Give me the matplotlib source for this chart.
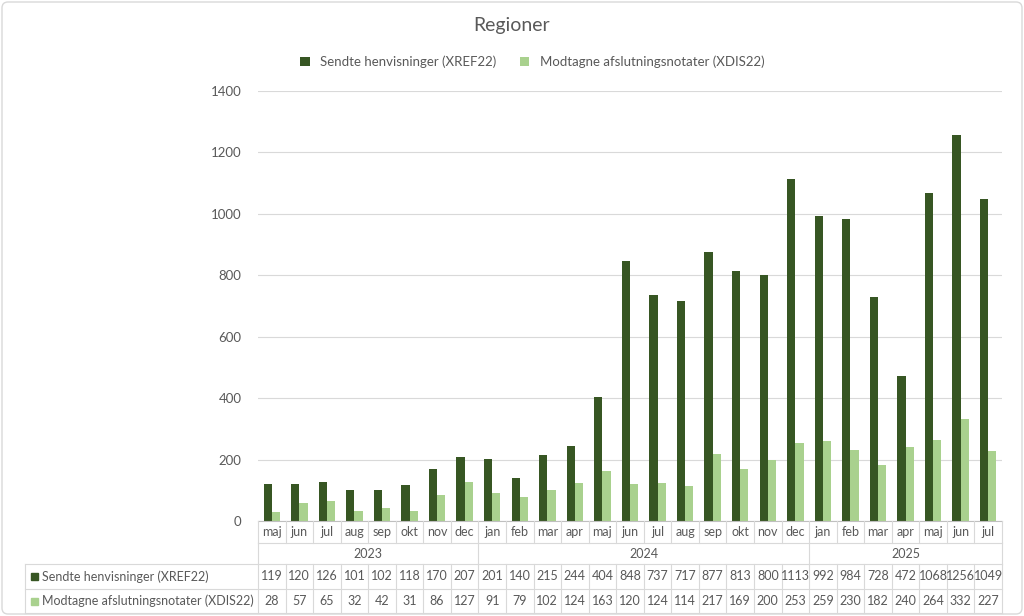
import matplotlib
matplotlib.use("Agg")
import matplotlib.pyplot as plt
from matplotlib.patches import FancyBboxPatch
import numpy as np

months = ["maj","jun","jul","aug","sep","okt","nov","dec",
          "jan","feb","mar","apr","maj","jun","jul","aug","sep","okt","nov","dec",
          "jan","feb","mar","apr","maj","jun","jul"]
years = ["2023", "2024", "2025"]
year_counts = [8, 12, 7]
sendte = [119,120,126,101,102,118,170,207,
          201,140,215,244,404,848,737,717,877,813,800,1113,
          992,984,728,472,1068,1256,1049]
modtagne = [28,57,65,32,42,31,86,127,
            91,79,102,124,163,120,124,114,217,169,200,253,
            259,230,182,240,264,332,227]
series_names = ["Sendte henvisninger (XREF22)", "Modtagne afslutningsnotater (XDIS22)"]
colors = ["#375623", "#a9d18e"]

plt.rcParams["font.family"] = "Lato"
W, H = 1024, 616
fig = plt.figure(figsize=(W/100, H/100), dpi=100)

x0, x1, ytop, ybot = 258, 1002, 91, 521
ax = fig.add_axes([x0/W, 1-ybot/H, (x1-x0)/W, (ybot-ytop)/H])
n = len(months)
x = np.arange(n)
bw = 0.3
ax.bar(x-bw/2, sendte, bw, color=colors[0], label=series_names[0], zorder=3)
ax.bar(x+bw/2, modtagne, bw, color=colors[1], label=series_names[1], zorder=3)
ax.set_xlim(-0.5, n-0.5)
ax.set_ylim(0, 1400)
ax.set_yticks(range(0, 1401, 200))
ax.yaxis.grid(True, color="#d9d9d9", lw=0.8, zorder=0)
ax.set_xticks([])
for s in ax.spines.values():
    s.set_visible(False)
ax.tick_params(axis="y", length=0, labelsize=9.5, labelcolor="#595959", pad=12)

fig.text(0.5, 1-25/H, "Regioner", ha="center", va="center", fontsize=14, color="#595959")
fig.legend(loc="center", bbox_to_anchor=(0.52, 1-62/H), ncol=2, frameon=False,
           fontsize=9.5, labelcolor="#595959", handlelength=0.7, handleheight=0.7,
           columnspacing=1.8)

# table overlay in pixel coordinates
tx = fig.add_axes([0, 0, 1, 1])
tx.set_xlim(0, W); tx.set_ylim(H, 0); tx.axis("off")
lc = "#d9d9d9"
cw = (x1-x0)/n
r = [521, 543, 564, 589, 613]
lx = 25
fs = 9
tx.plot([x0, x1], [r[0], r[0]], color="#bfbfbf", lw=0.8)
tx.plot([x0, x1], [r[1], r[1]], color=lc, lw=0.8)
for yy in r[2:]:
    tx.plot([lx, x1], [yy, yy], color=lc, lw=0.8)
for i in range(n+1):
    xx = x0 + i*cw
    tx.plot([xx, xx], [r[0], r[1]], color=lc, lw=0.8)
    tx.plot([xx, xx], [r[2], r[4]], color=lc, lw=0.8)
cum = np.cumsum([0]+year_counts)
for c in cum:
    xx = x0 + c*cw
    tx.plot([xx, xx], [r[1], r[2]], color=lc, lw=0.8)
tx.plot([lx, lx], [r[2], r[4]], color=lc, lw=0.8)
tc = "#595959"
for i, m in enumerate(months):
    cx = x0 + (i+0.5)*cw
    tx.text(cx, (r[0]+r[1])/2, m, ha="center", va="center", fontsize=fs, color=tc)
    tx.text(cx, (r[2]+r[3])/2, str(sendte[i]), ha="center", va="center", fontsize=fs, color=tc)
    tx.text(cx, (r[3]+r[4])/2, str(modtagne[i]), ha="center", va="center", fontsize=fs, color=tc)
for j, yv in enumerate(years):
    cx = x0 + (cum[j]+cum[j+1])/2*cw
    tx.text(cx, (r[1]+r[2])/2, yv, ha="center", va="center", fontsize=fs, color=tc)
for k, name in enumerate(series_names):
    cy = (r[2+k]+r[3+k])/2
    tx.add_patch(plt.Rectangle((lx+6, cy-3.5), 7, 7, color=colors[k]))
    tx.text(lx+17, cy, name, ha="left", va="center", fontsize=fs, color=tc)
tx.add_patch(FancyBboxPatch((2, 2), W-4, H-4, boxstyle="round,pad=0,rounding_size=6",
                            fill=False, ec="#d9d9d9", lw=1))

fig.savefig("out.png", dpi=100)
